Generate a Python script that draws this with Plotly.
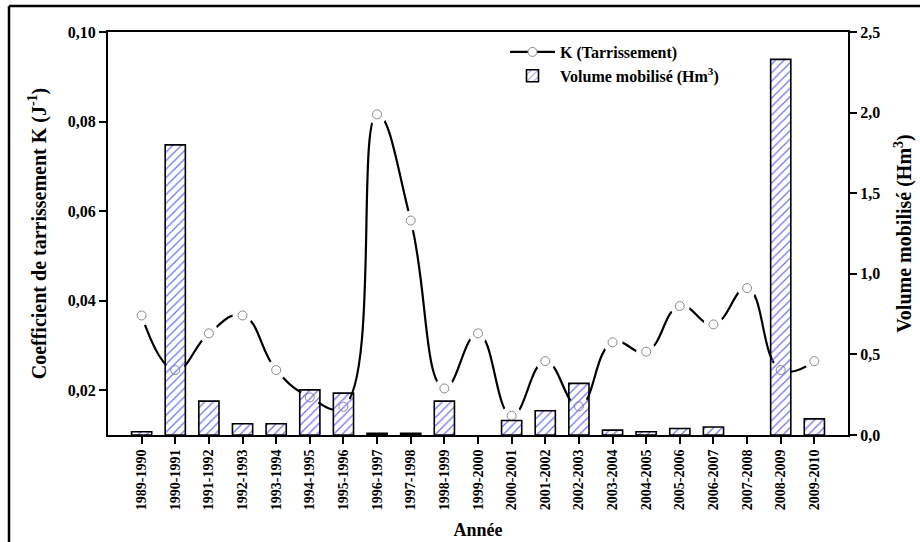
import plotly.graph_objects as go

years = ["1989-1990", "1990-1991", "1991-1992", "1992-1993", "1993-1994",
         "1994-1995", "1995-1996", "1996-1997", "1997-1998", "1998-1999",
         "1999-2000", "2000-2001", "2001-2002", "2002-2003", "2003-2004",
         "2004-2005", "2005-2006", "2006-2007", "2007-2008", "2008-2009",
         "2009-2010"]
k_tarrissement = [0.0367, 0.0245, 0.0327, 0.0367, 0.0245,
                  0.0184, 0.0163, 0.0816, 0.0579, 0.0204,
                  0.0327, 0.0143, 0.0265, 0.0164, 0.0307,
                  0.0286, 0.0388, 0.0347, 0.0428, 0.0245,
                  0.0265]
volume_mobilise = [0.02, 1.80, 0.21, 0.07, 0.07,
                   0.28, 0.26, 0.01, 0.01, 0.21,
                   None, 0.09, 0.15, 0.32, 0.03,
                   0.02, 0.04, 0.05, None, 2.33,
                   0.10]
k_ticks = [0.02, 0.04, 0.06, 0.08, 0.10]
v_ticks = [0.0, 0.5, 1.0, 1.5, 2.0, 2.5]

SERIF = "Liberation Serif, Times New Roman, serif"
W, H = 920, 542
ML, MR, MT, MB = 108, 72, 32, 107
PW, PH = W - ML - MR, H - MT - MB

fig = go.Figure()

# K line (legend entry)
fig.add_trace(go.Scatter(
    x=years, y=k_tarrissement, name="K (Tarrissement)",
    mode="lines+markers", yaxis="y",
    line=dict(color="black", width=2.2, shape="spline", smoothing=1.3),
    marker=dict(symbol="circle", size=9, color="white",
                line=dict(color="#8a8a8a", width=1)),
    legendgroup="k",
))
# white gap around symbols
fig.add_trace(go.Scatter(
    x=years, y=k_tarrissement, mode="markers", yaxis="y", showlegend=False,
    hoverinfo="skip",
    marker=dict(symbol="circle", size=20, color="white", line=dict(width=0)),
))
# open circle symbols
fig.add_trace(go.Scatter(
    x=years, y=k_tarrissement, mode="markers", yaxis="y", showlegend=False,
    marker=dict(symbol="circle", size=9, color="white",
                line=dict(color="#8a8a8a", width=1)),
))
# bars
fig.add_trace(go.Bar(
    x=years, y=volume_mobilise, name="Volume mobilisé (Hm<sup>3</sup>)",
    yaxis="y2", width=0.6,
    marker=dict(color="#6f6ff0",
                line=dict(color="black", width=1.6),
                pattern=dict(shape="/", size=6, solidity=0.2,
                             fgcolor="#6f6ff0", fillmode="replace")),
    legendgroup="v",
))

tickfont = dict(family=SERIF, size=16, color="black", weight="bold")

fig.update_layout(
    width=W, height=H,
    margin=dict(l=ML, r=MR, t=MT, b=MB),
    paper_bgcolor="white", plot_bgcolor="white",
    separators=", ",
    showlegend=True,
    legend=dict(x=(505 - ML) / PW, y=(435 - 35) / PH, xanchor="left", yanchor="top",
                bgcolor="rgba(0,0,0,0)", borderwidth=0,
                font=dict(family=SERIF, size=16, color="black", weight="bold"),
                itemwidth=45, tracegroupgap=2, traceorder="normal"),
    xaxis=dict(
        type="category", range=[-1, 21],
        showline=True, linecolor="black", linewidth=2, mirror=True,
        ticks="outside", ticklen=7, tickwidth=1.6, tickcolor="black",
        tickangle=-90, showgrid=False, zeroline=False,
        tickfont=dict(family=SERIF, size=14, color="black", weight="bold"),
        title=dict(text="Année", standoff=14,
                   font=dict(family=SERIF, size=18, color="black", weight="bold")),
        automargin=False,
    ),
    yaxis=dict(
        range=[0.01, 0.10], tickvals=k_ticks, tickformat=".2f",
        showline=True, linecolor="black", linewidth=2,
        ticks="outside", ticklen=7, tickwidth=1.6, tickcolor="black",
        showgrid=False, zeroline=False, tickfont=tickfont,
        title=dict(text="Coefficient de tarrissement K (J<sup>-1</sup>)", standoff=16,
                   font=dict(family=SERIF, size=20, color="black", weight="bold")),
        automargin=False,
    ),
    yaxis2=dict(
        range=[0, 2.5], tickvals=v_ticks, tickformat=".1f",
        overlaying="y", side="right",
        showline=True, linecolor="black", linewidth=2,
        ticks="outside", ticklen=7, tickwidth=1.6, tickcolor="black",
        showgrid=False, zeroline=False, tickfont=tickfont,
        title=dict(text="Volume mobilisé (Hm<sup>3</sup>)", standoff=18,
                   font=dict(family=SERIF, size=20, color="black", weight="bold")),
        automargin=False,
    ),
)

# outer frame of the figure
def px_x(px):
    return (px - ML) / PW

def px_y(py):
    return (MT + PH - py) / PH

fig.add_shape(type="line", xref="paper", yref="paper",
              x0=px_x(9), x1=px_x(9), y0=px_y(6), y1=px_y(H + 2),
              line=dict(color="black", width=2.5))
fig.add_shape(type="line", xref="paper", yref="paper",
              x0=px_x(9), x1=px_x(W + 2), y0=px_y(6), y1=px_y(6),
              line=dict(color="black", width=2.5))

fig.write_html(
    "out.html",
    config={"displayModeBar": False},
    post_script="document.body.style.margin='0';document.body.style.overflow='hidden';",
)
